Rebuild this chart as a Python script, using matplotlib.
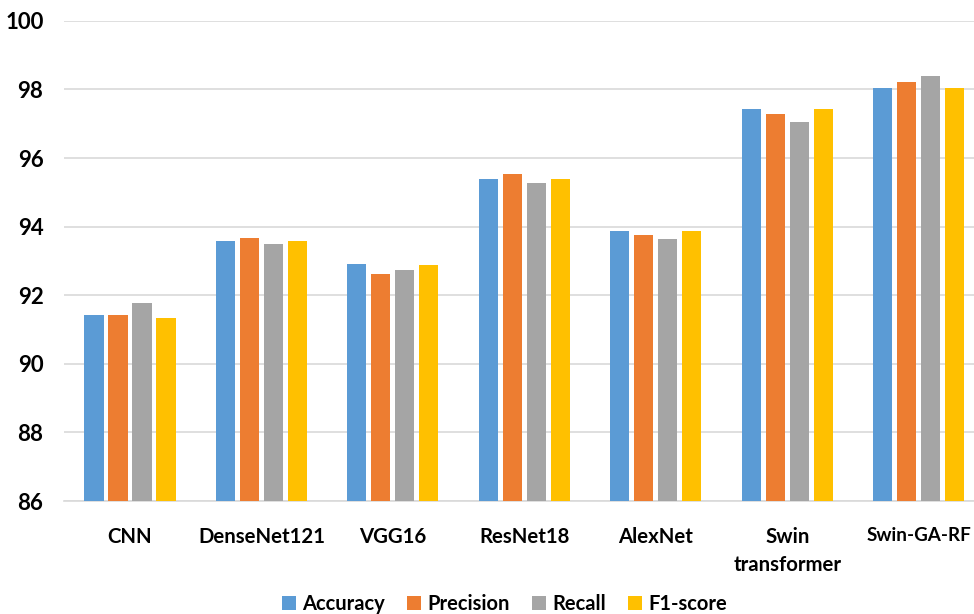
import matplotlib
matplotlib.use("Agg")
import matplotlib.pyplot as plt
import numpy as np

models = ["CNN", "DenseNet121", "VGG16", "ResNet18", "AlexNet",
          "Swin\ntransformer", "Swin-GA-RF"]
accuracy = [91.43, 93.59, 92.90, 95.39, 93.86, 97.42, 98.04]
precision = [91.43, 93.68, 92.61, 95.54, 93.77, 97.29, 98.23]
recall = [91.76, 93.50, 92.73, 95.26, 93.65, 97.04, 98.38]
f1_score = [91.33, 93.59, 92.88, 95.39, 93.86, 97.42, 98.04]
series_names = ["Accuracy", "Precision", "Recall", "F1-score"]
yticks = [86, 88, 90, 92, 94, 96, 98, 100]

colors = ["#5B9BD5", "#ED7D31", "#A5A5A5", "#FFC000"]

plt.rcParams["font.family"] = ["Lato", "DejaVu Sans"]

fig = plt.figure(figsize=(9.74, 6.14), dpi=100)
ax = fig.add_axes([0.066, 0.184, 0.9447, 0.782])

x = np.arange(len(models))
pitch = 0.1826
width = 0.145
for i, (vals, name) in enumerate(zip([accuracy, precision, recall, f1_score], series_names)):
    offs = (i - 1.5) * pitch
    ax.bar(x + offs, np.array(vals) - 86, width=width, bottom=86,
           color=colors[i], label=name, zorder=3)

ax.set_xlim(-0.5, len(models) - 0.5)
ax.set_ylim(86, 100)
ax.set_yticks(yticks)
ax.set_yticklabels([str(t) for t in yticks], fontsize=16, fontweight="bold")
ax.set_xticks(x)
ax.set_xticklabels(models, fontsize=14.7, fontweight="bold", linespacing=1.5)
ax.tick_params(axis="both", length=0)
ax.tick_params(axis="y", pad=15)
ax.tick_params(axis="x", pad=19)
for lab in ax.get_xticklabels():
    lab.set_verticalalignment("top")
# keep the last label inside the figure edge
ax.get_xticklabels()[-1].set_fontsize(13.6)

ax.grid(axis="y", color="#D9D9D9", linewidth=1.2, zorder=0)
for side in ["top", "right", "left"]:
    ax.spines[side].set_visible(False)
ax.spines["bottom"].set_color("#D9D9D9")
ax.spines["bottom"].set_linewidth(1.2)

leg = fig.legend(loc="center", bbox_to_anchor=(0.518, 0.016), ncol=4, frameon=False,
                 prop={"size": 14.5, "weight": "bold"}, handlelength=0.7,
                 handleheight=0.7, handletextpad=0.3, columnspacing=1.1)

fig.savefig("out.png", dpi=100)
